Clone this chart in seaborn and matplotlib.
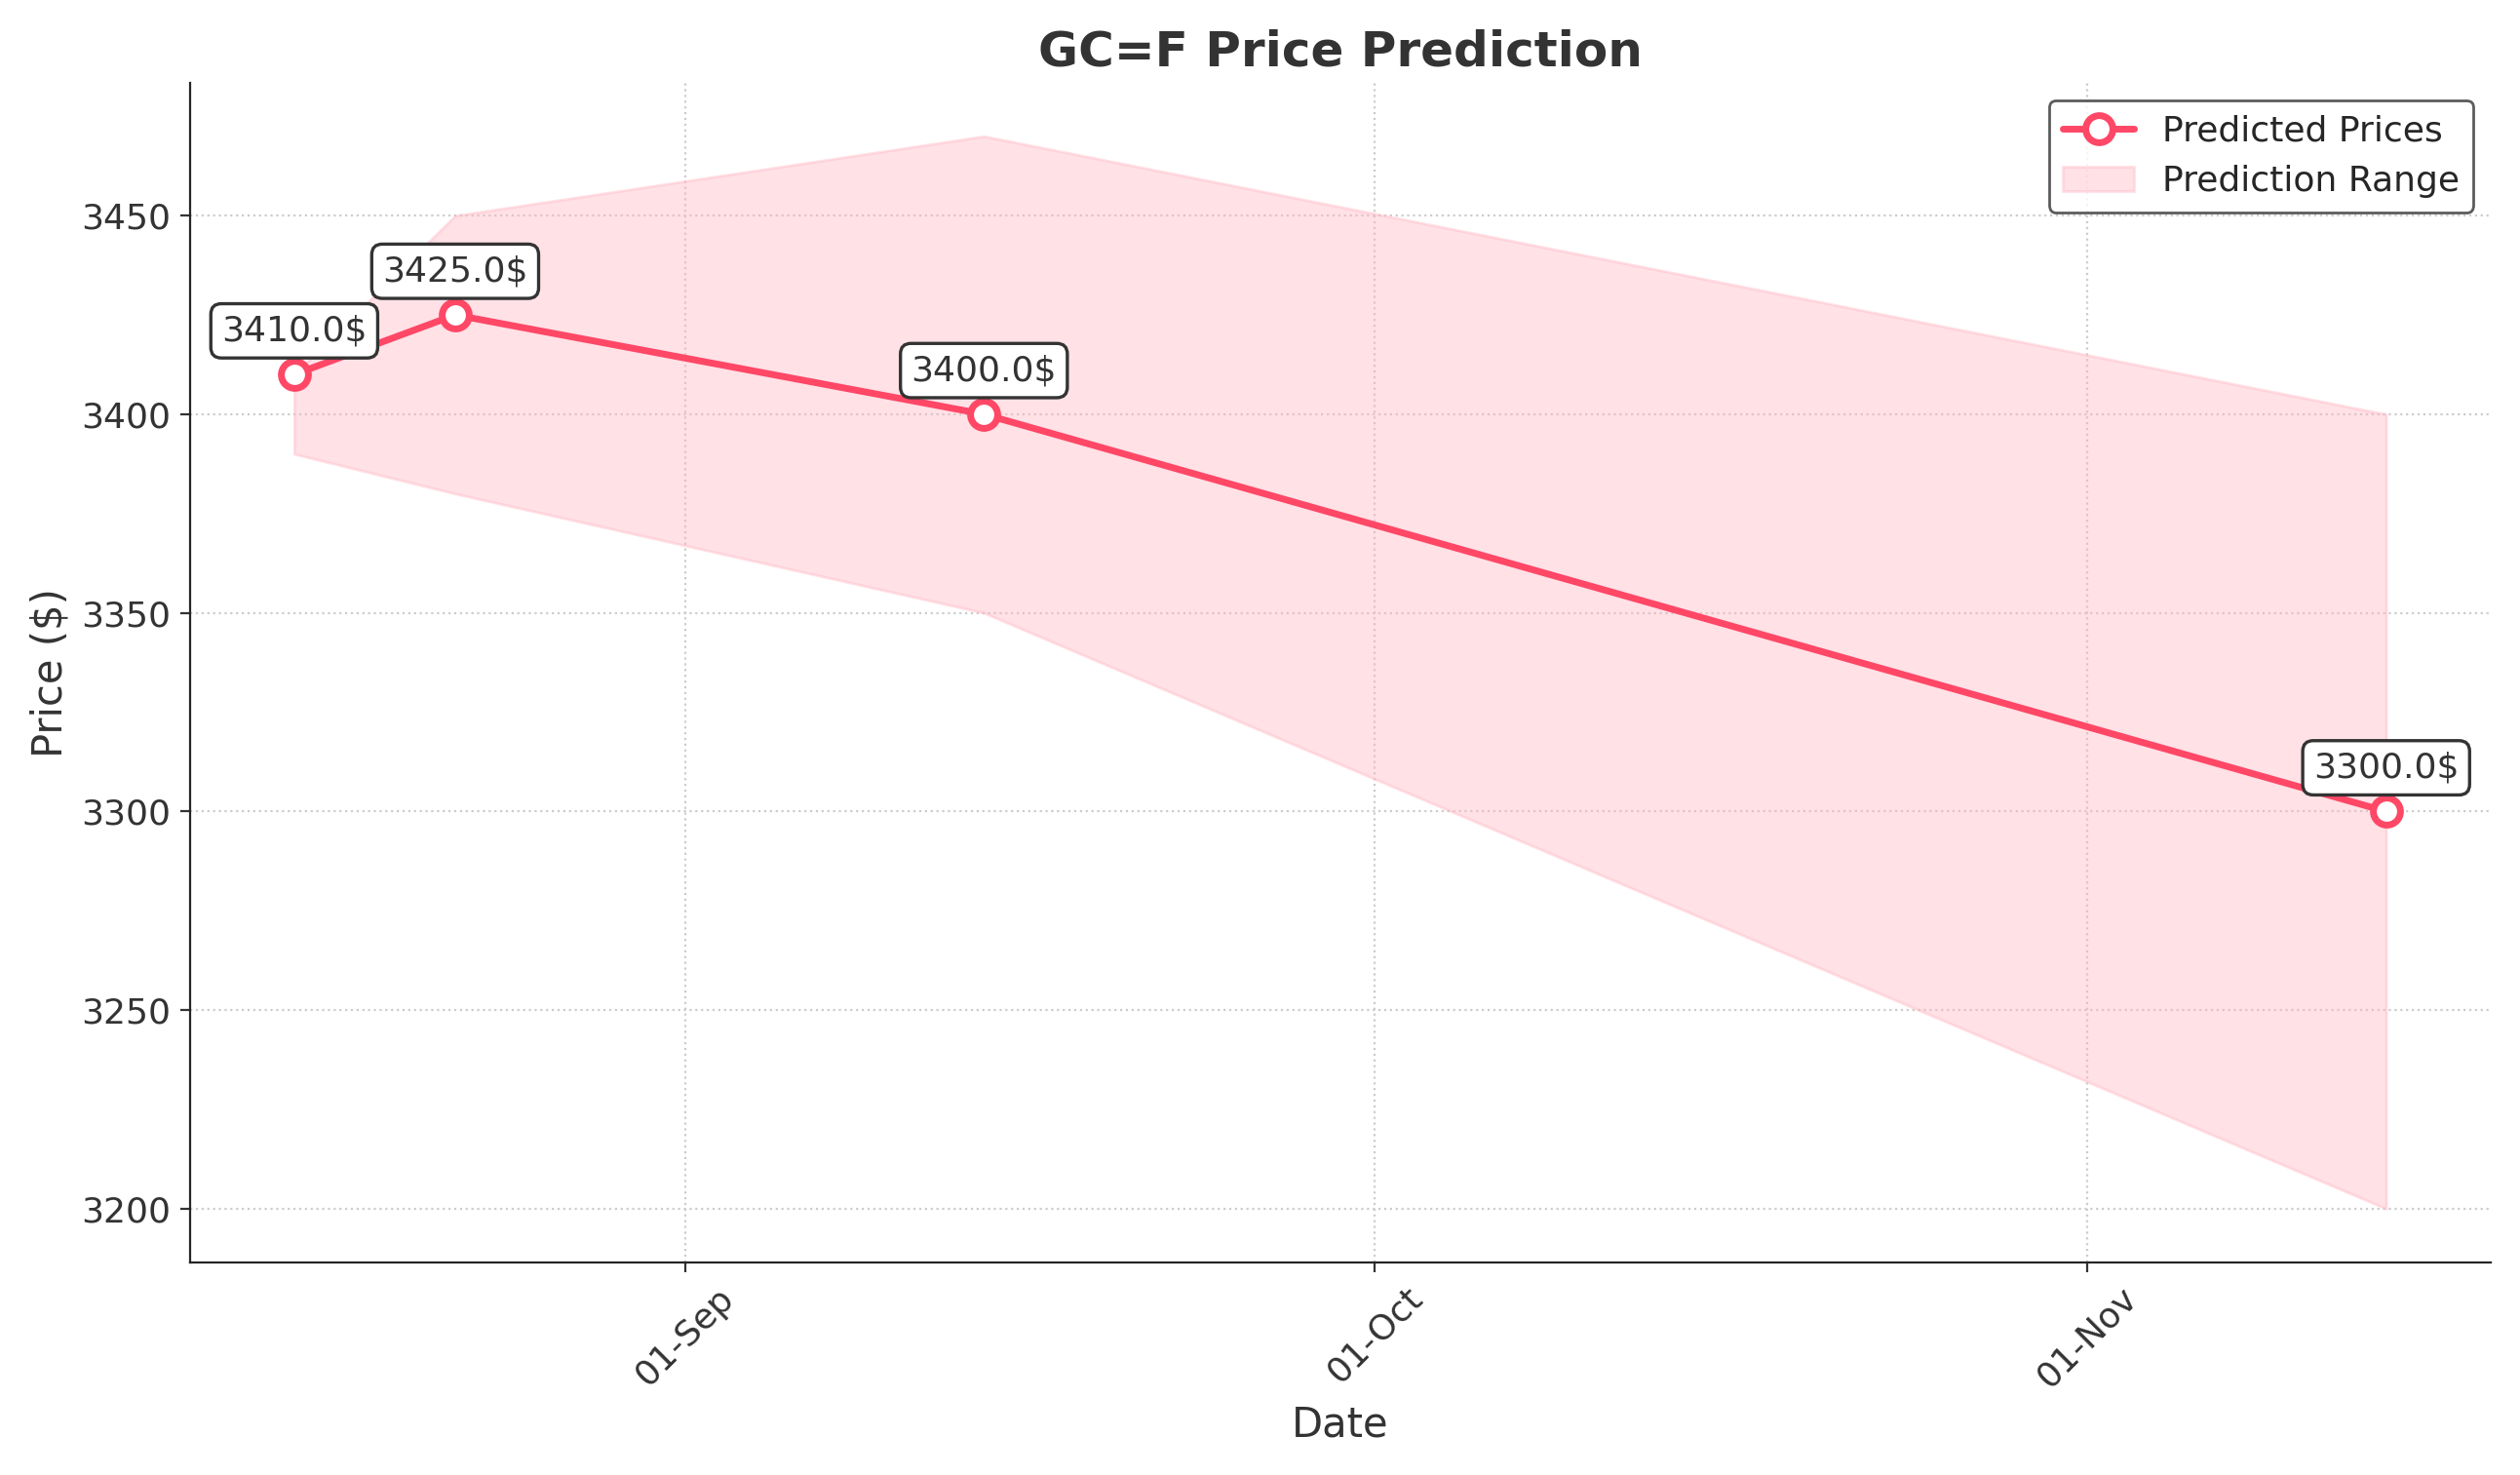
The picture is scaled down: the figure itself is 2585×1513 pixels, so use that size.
import matplotlib
matplotlib.use("Agg")
import matplotlib.pyplot as plt
import matplotlib.dates as mdates
import seaborn as sns
import pandas as pd

dates = ["2025-08-15", "2025-08-22", "2025-09-14", "2025-11-14"]
predicted = [3410.0, 3425.0, 3400.0, 3300.0]
lower = [3390.0, 3380.0, 3350.0, 3200.0]
upper = [3410.0, 3450.0, 3470.0, 3400.0]

df = pd.DataFrame({"Date": pd.to_datetime(dates), "Price": predicted,
                   "Lower": lower, "Upper": upper})

sns.set_style("ticks")
fig, ax = plt.subplots(figsize=(12.925, 7.565), dpi=200)
color = "#ff4766"
sns.lineplot(data=df, x="Date", y="Price", ax=ax, color=color, linewidth=2.5,
             marker="o", markersize=10, markerfacecolor="white",
             markeredgecolor=color, markeredgewidth=2.5, label="Predicted Prices",
             zorder=3)
ax.fill_between(df["Date"], df["Lower"], df["Upper"], color="#ffb6c1",
                alpha=0.4, label="Prediction Range", zorder=1)
for d, p in zip(df["Date"], df["Price"]):
    ax.annotate(f"{p}$", (d, p), xytext=(0, 10), textcoords="offset points",
                ha="center", va="bottom", fontsize=13, color="#333333",
                bbox=dict(boxstyle="round,pad=0.3", fc="white", ec="#333333", lw=1.2))
ax.xaxis.set_major_locator(mdates.MonthLocator())
ax.xaxis.set_major_formatter(mdates.DateFormatter("%d-%b"))
plt.setp(ax.get_xticklabels(), rotation=45)
ax.grid(True, linestyle=":", color="#cccccc")
ax.set_title("GC=F Price Prediction", fontsize=18, fontweight="bold", color="#333333")
ax.set_xlabel("Date", fontsize=15, color="#333333")
ax.set_ylabel("Price ($)", fontsize=15, color="#333333")
ax.tick_params(colors="#333333", labelsize=13)
sns.despine(ax=ax)
ax.legend(loc="upper right", fontsize=13, edgecolor="#333333", fancybox=True)
fig.tight_layout()
fig.savefig("out.png", dpi=200)
